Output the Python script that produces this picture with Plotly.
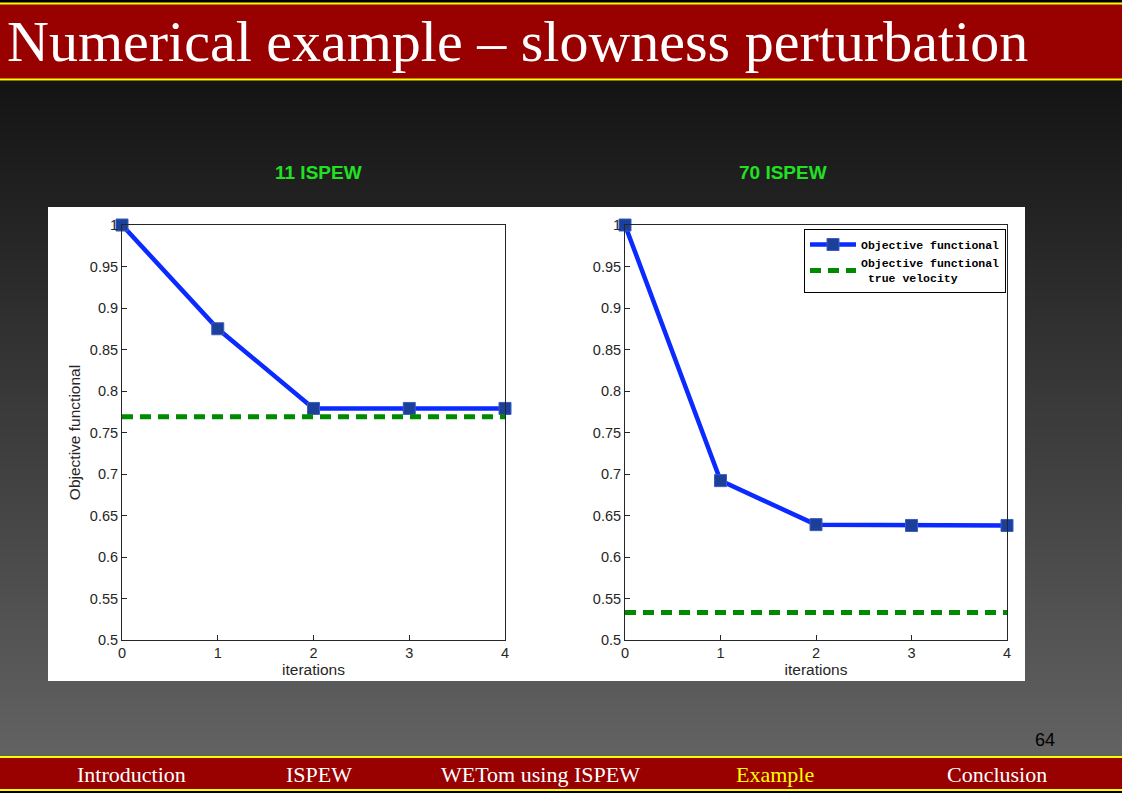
import plotly.graph_objects as go

# ---- data ----
iterations = [0, 1, 2, 3, 4]
obj_11 = [1.0, 0.875, 0.779, 0.779, 0.779]
true_11 = [0.769, 0.769, 0.769, 0.769, 0.769]
obj_70 = [1.0, 0.692, 0.639, 0.638, 0.638]
true_70 = [0.533, 0.533, 0.533, 0.533, 0.533]
panel_titles = ["11 ISPEW", "70 ISPEW"]
legend_names = ["<b>Objective functional</b>", "<b>Objective functional<br> true velocity</b>"]
nav_items = ["Introduction", "ISPEW", "WETom using ISPEW", "Example", "Conclusion"]
nav_active = "Example"
slide_title = "Numerical example \u2013 slowness perturbation"
page_number = "64"

W, H = 1122, 793


def px(x):
    return x / W


def py(y):
    return 1 - y / H


BLUE = "#0a2aff"
MARK = "#1c3f9a"
GREEN = "#008a00"
AXC = "#262626"
FS = 14.5
FT = 15.5

fig = go.Figure()

for i, (obj, tru) in enumerate([(obj_11, true_11), (obj_70, true_70)]):
    xa = "x" if i == 0 else "x2"
    ya = "y" if i == 0 else "y2"
    show = i == 1
    fig.add_trace(go.Scatter(
        x=iterations, y=obj, mode="lines+markers", xaxis=xa, yaxis=ya,
        line=dict(color=BLUE, width=4.5),
        marker=dict(symbol="square", size=12, color=MARK, line=dict(color="#3a5cc0", width=1)),
        name=legend_names[0], showlegend=show, cliponaxis=False,
    ))
    fig.add_trace(go.Scatter(
        x=iterations, y=tru, mode="lines", xaxis=xa, yaxis=ya,
        line=dict(color=GREEN, width=5, dash="11px,7px"),
        name=legend_names[1], showlegend=show, cliponaxis=False,
    ))

shapes = []
# gradient background
top, bot = 81, 757
n = 80
c0, c1 = 20, 98
for k in range(n):
    y0 = top + (bot - top) * k / n
    y1 = top + (bot - top) * (k + 1) / n + 2
    c = round(c0 + (c1 - c0) * (k + 0.5) / n)
    shapes.append(dict(type="rect", xref="paper", yref="paper", x0=0, x1=1,
                       y0=py(y0), y1=py(min(y1, bot)), fillcolor=f"rgb({c},{c},{c})",
                       line=dict(width=0), layer="below"))
# title bar
shapes.append(dict(type="rect", xref="paper", yref="paper", x0=0, x1=1, y0=py(80), y1=py(3),
                   fillcolor="#990000", line=dict(width=0), layer="below"))
for yy in (3.5, 79.5):
    shapes.append(dict(type="line", xref="paper", yref="paper", x0=0, x1=1, y0=py(yy), y1=py(yy),
                       line=dict(color="#ffff00", width=2), layer="below"))
# bottom nav bar
shapes.append(dict(type="rect", xref="paper", yref="paper", x0=0, x1=1, y0=py(790), y1=py(757),
                   fillcolor="#990000", line=dict(width=0), layer="below"))
for yy in (757, 790):
    shapes.append(dict(type="line", xref="paper", yref="paper", x0=0, x1=1, y0=py(yy), y1=py(yy),
                       line=dict(color="#ffff00", width=2), layer="below"))
# white panel
shapes.append(dict(type="rect", xref="paper", yref="paper", x0=px(48), x1=px(1025), y0=py(681), y1=py(207),
                   fillcolor="white", line=dict(width=0), layer="below"))

annotations = []
annotations.append(dict(text=slide_title, xref="paper", yref="paper", x=px(5), y=py(41),
                        xanchor="left", yanchor="middle", showarrow=False,
                        font=dict(family="Liberation Serif", size=58, color="white")))
for t, cx in zip(panel_titles, (318, 783)):
    annotations.append(dict(text=f"<b>{t}</b>", xref="paper", yref="paper", x=px(cx), y=py(173),
                            xanchor="center", yanchor="middle", showarrow=False,
                            font=dict(family="Liberation Sans", size=19, color="#22e022")))
for t, cx in zip(nav_items, (131, 319, 540, 775, 997)):
    annotations.append(dict(text=t, xref="paper", yref="paper", x=px(cx), y=py(774),
                            xanchor="center", yanchor="middle", showarrow=False,
                            font=dict(family="Liberation Serif", size=22,
                                      color="#ffff00" if t == nav_active else "white")))
annotations.append(dict(text=page_number, xref="paper", yref="paper", x=px(1045), y=py(740),
                        xanchor="center", yanchor="middle", showarrow=False,
                        font=dict(family="Liberation Sans", size=18, color="black")))

axis_common = dict(showline=True, mirror=True, linecolor=AXC, linewidth=1,
                   ticks="inside", ticklen=5, tickcolor=AXC, showgrid=False, zeroline=False,
                   tickfont=dict(family="Liberation Sans", size=FS, color=AXC))
title_font = dict(family="Liberation Sans", size=FT, color=AXC)

fig.update_layout(
    autosize=True, margin=dict(l=0, r=0, t=0, b=0, autoexpand=False),
    paper_bgcolor="black", plot_bgcolor="white",
    shapes=shapes, annotations=annotations,
    xaxis=dict(domain=[px(122), px(505)], range=[0, 4], dtick=1, anchor="y",
               title=dict(text="iterations", standoff=0, font=title_font), **axis_common),
    yaxis=dict(domain=[py(640), py(225)], range=[0.5, 1], dtick=0.05, anchor="x",
               title=dict(text="Objective functional", standoff=5, font=title_font), **axis_common),
    xaxis2=dict(domain=[px(625), px(1007)], range=[0, 4], dtick=1, anchor="y2",
                title=dict(text="iterations", standoff=0, font=title_font), **axis_common),
    yaxis2=dict(domain=[py(640), py(225)], range=[0.5, 1], dtick=0.05, anchor="x2", **axis_common),
    legend=dict(x=px(1006), y=py(229), xanchor="right", yanchor="top",
                bgcolor="white", bordercolor="black", borderwidth=1,
                font=dict(family="Liberation Mono", size=11.5, color="black"),
                tracegroupgap=0, itemwidth=46),
)

fig.write_html("out.html",
               default_width="100vw", default_height="100vh",
               config={"displayModeBar": False},
               post_script="document.body.style.margin='0';document.body.style.overflow='hidden';")
